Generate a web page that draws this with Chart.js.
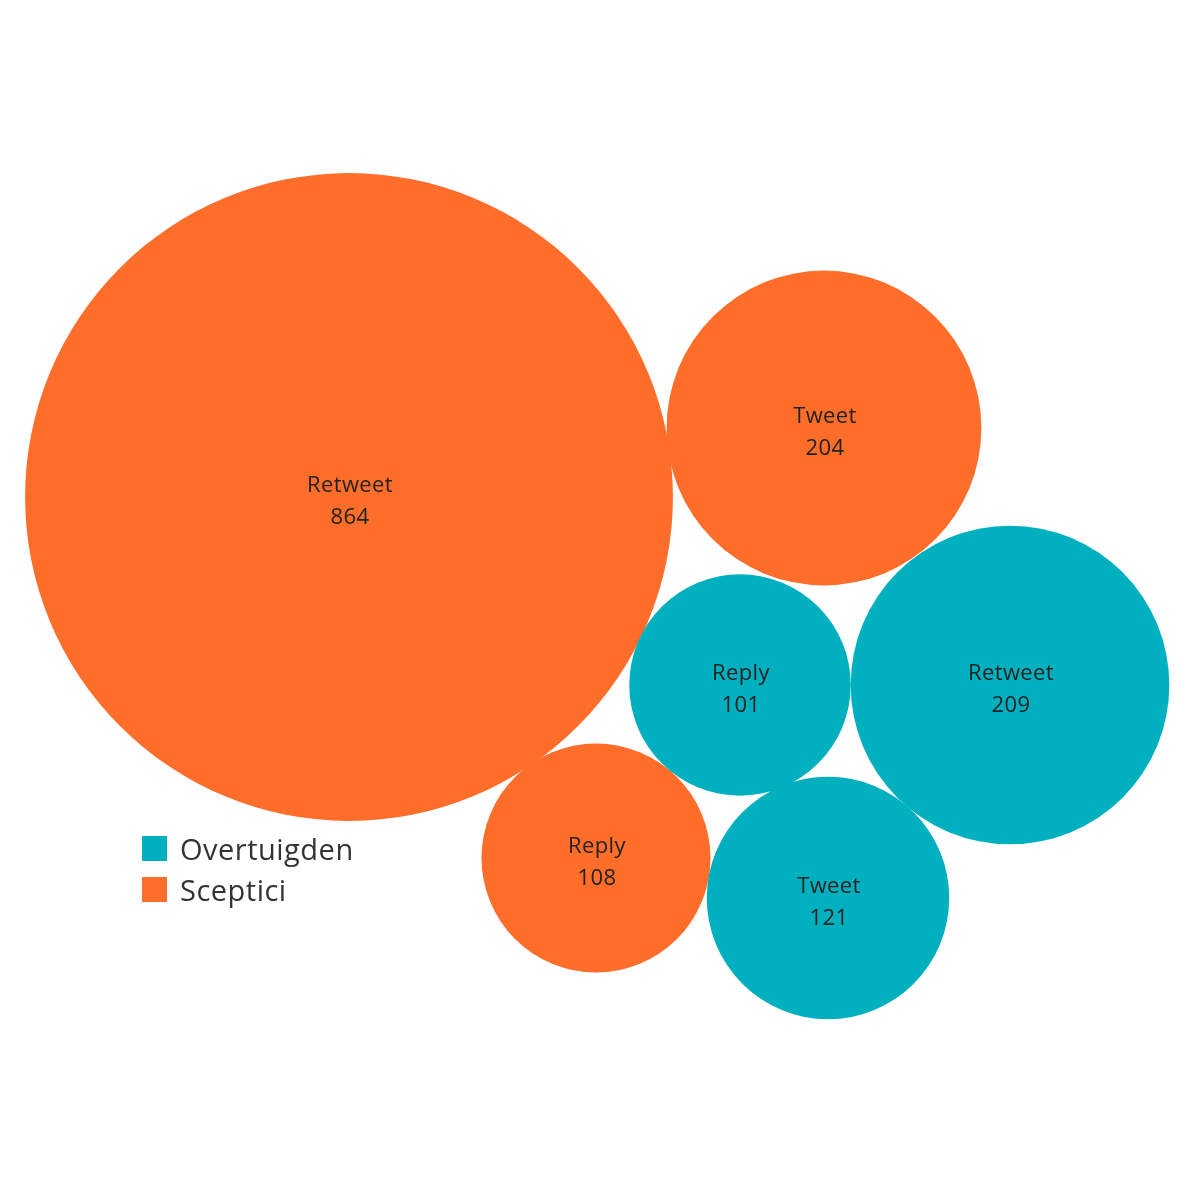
<!DOCTYPE html>
<html>
<head>
<meta charset="utf-8">
<script src="https://cdn.jsdelivr.net/npm/chart.js@4/dist/chart.umd.min.js"></script>
<style>
  html, body { margin: 0; padding: 0; background: #fff; }
  #wrap { position: relative; width: 1200px; height: 1191px; }
</style>
</head>
<body>
<div id="wrap"><canvas id="bubbles"></canvas></div>
<script>
// groups and their types
const groups = ['Overtuigden', 'Sceptici'];
const groupColors = ['#00B0BF', '#FE6E2A'];

const overTypes = ['Reply', 'Retweet', 'Tweet'];
const overCounts = [101, 209, 121];
// packed layout centres (layout units, 0..1200 / 0..1191 from top)
const overX = [740, 1010, 828];
const overY = [685, 685, 898];

const scepTypes = ['Retweet', 'Tweet', 'Reply'];
const scepCounts = [864, 204, 108];
const scepX = [349, 824, 596];
const scepY = [497, 428, 858];

function points(xs, ys, counts, types) {
    return counts.map((v, i) => ({ x: xs[i], y: ys[i], v, label: types[i] }));
}

// radius grows with sqrt(count), scaled to the canvas width
function radius(ctx) {
    return Math.sqrt(ctx.raw.v) * 11.02 * ctx.chart.width / 1200;
}

const bubbleLabels = {
    id: 'bubbleLabels',
    afterDatasetsDraw(chart) {
        const c = chart.ctx;
        c.save();
        c.fillStyle = '#222';
        c.font = '22px "Open Sans", sans-serif';
        c.letterSpacing = '0.4px';
        c.textAlign = 'center';
        c.textBaseline = 'middle';
        chart.data.datasets.forEach((ds, di) => {
            chart.getDatasetMeta(di).data.forEach((el, i) => {
                const p = ds.data[i];
                c.fillText(p.label, el.x + 1, el.y - 11);
                c.fillText(String(p.v), el.x + 1, el.y + 21);
            });
        });
        c.restore();
    }
};

const sideLegend = {
    id: 'sideLegend',
    afterDraw(chart) {
        const c = chart.ctx;
        c.save();
        c.font = '29px "Open Sans", sans-serif';
        c.letterSpacing = '0.5px';
        c.textBaseline = 'middle';
        chart.data.datasets.forEach((ds, i) => {
            const y = 848 + i * 41;
            c.fillStyle = ds.backgroundColor;
            c.fillRect(142, y - 12, 25, 25);
            c.fillStyle = '#333';
            c.fillText(ds.label, 180, y + 4);
        });
        c.restore();
    }
};

new Chart(document.getElementById('bubbles'), {
    type: 'bubble',
    data: {
        datasets: [
            {
                label: groups[0],
                data: points(overX, overY, overCounts, overTypes),
                backgroundColor: groupColors[0],
                borderWidth: 0,
                hoverBorderWidth: 0,
                clip: false
            },
            {
                label: groups[1],
                data: points(scepX, scepY, scepCounts, scepTypes),
                backgroundColor: groupColors[1],
                borderWidth: 0,
                hoverBorderWidth: 0,
                clip: false
            }
        ]
    },
    options: {
        responsive: true,
        maintainAspectRatio: false,
        animation: false,
        layout: { padding: 0, autoPadding: false },
        elements: { point: { radius } },
        plugins: { legend: { display: false }, tooltip: { enabled: false } },
        scales: {
            x: { display: false, min: 0, max: 1200 },
            y: { display: false, min: 0, max: 1191, reverse: true }
        }
    },
    plugins: [bubbleLabels, sideLegend]
});
</script>
</body>
</html>
